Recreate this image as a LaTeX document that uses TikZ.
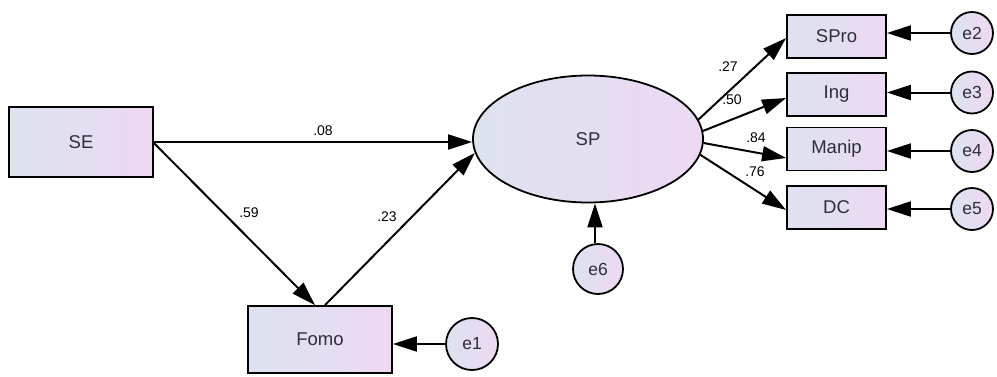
\documentclass[tikz,border=0pt]{standalone}
\usepackage{fontspec}
\setmainfont{Liberation Sans}
\usetikzlibrary{arrows.meta,shapes.geometric,calc}
\definecolor{fillL}{RGB}{221,227,239}
\definecolor{fillR}{RGB}{237,216,242}
\definecolor{txt}{RGB}{45,45,60}
\tikzset{
  base/.style={draw=black, line width=1.8pt, left color=fillL, right color=fillR, text=txt, font=\fontsize{18.5}{18.5}\selectfont, inner sep=0pt},
  obsbox/.style={base, rectangle},
  latent/.style={base, ellipse, minimum width=230pt, minimum height=127pt},
  errc/.style={base, circle, font=\fontsize{17.5}{17.5}\selectfont},
  path/.style={line width=2pt, -{Triangle[length=24pt,width=15pt]}},
  coef/.style={font=\fontsize{14}{14}\selectfont, text=black, inner sep=0pt}
}
\begin{document}
\begin{tikzpicture}[x=1pt,y=-1pt]
\useasboundingbox (0,0) rectangle (997,376);
% observed boxes
\node[obsbox, minimum width=144pt, minimum height=70pt] (SE) at (81,142) {SE};
\node[obsbox, minimum width=144pt, minimum height=67pt] (Fomo) at (320,339.5) {Fomo};
\node[latent] (SP) at (588,139) {SP};
\node[obsbox, minimum width=99pt, minimum height=43pt] (SPro) at (836.5,36.5) {SPro};
\node[obsbox, minimum width=99pt, minimum height=43pt] (Ing) at (836.5,94.5) {Ing};
\node[obsbox, minimum width=99pt, minimum height=43pt] (Manip) at (836.5,149) {Manip};
\node[obsbox, minimum width=99pt, minimum height=43pt] (DC) at (836.5,207.5) {DC};
% error terms
\node[errc, minimum size=52pt] (e1) at (472,344) {e1};
\node[errc, minimum size=50pt] (e6) at (598,269) {e6};
\node[errc, minimum size=42pt] (e2) at (972,33) {e2};
\node[errc, minimum size=42pt] (e3) at (972,92.5) {e3};
\node[errc, minimum size=42pt] (e4) at (972,151) {e4};
\node[errc, minimum size=42pt] (e5) at (972,209) {e5};
\coordinate (e6t) at ($(e6.north)+(-3,0)$);
% structural paths
\draw[path] (SE.east) -- (SE.east -| SP.west);
\draw[path] ($(SE.east)+(0,1)$) -- ($(Fomo.north)+(-5,0)$);
\draw[path] ($(Fomo.north)+(5,0)$) -- (SP.187);
% measurement paths
\draw[path] (SP.10.8) -- ($(SPro.west)+(0,1.5)$);
\draw[path] (SP.4.5) -- ($(Ing.west)+(0,3.5)$);
\draw[path] (SP.-2.5) -- ($(Manip.west)+(0,9)$);
\draw[path] (SP.-8.1) -- ($(DC.west)+(0,2.5)$);
% error paths
\draw[path] (e1.west) -- (e1.west -| Fomo.east);
\draw[path] (e6t) -- (e6t |- SP.south);
\draw[path] (e2.west) -- (e2.west -| SPro.east);
\draw[path] (e3.west) -- (e3.west -| Ing.east);
\draw[path] (e4.west) -- (e4.west -| Manip.east);
\draw[path] (e5.west) -- (e5.west -| DC.east);
% coefficients
\node[coef] (c08) at (323,131) {.08};
\node[coef] (c59) at (249,213) {.59};
\node[coef] (c23) at (387,217) {.23};
\node[coef] (c27) at (728,67) {.27};
\node[coef] (c50) at (732,100) {.50};
\node[coef] (c84) at (756,138) {.84};
\node[coef] (c76) at (755,172) {.76};
\end{tikzpicture}
\end{document}
